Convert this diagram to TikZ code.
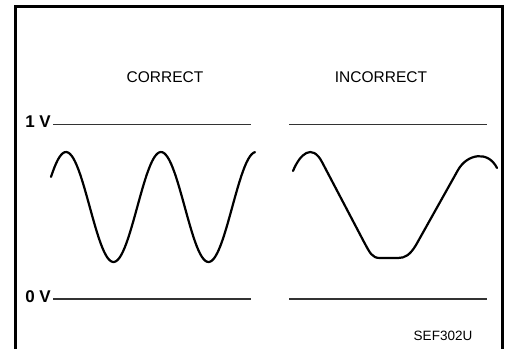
\documentclass[tikz,border=0pt]{standalone}
\usepackage{fontspec}
\setmainfont{Liberation Sans}
\usetikzlibrary{positioning}

\begin{document}
\begin{tikzpicture}[x=1pt,y=-1pt,
  wave/.style={line width=2.2pt,line join=round,line cap=round},
  level/.style={line width=1.1pt,black!80},
  lbl/.style={font=\fontsize{15.5}{18}\selectfont,inner sep=0pt},
  volt/.style={font=\bfseries\fontsize{17}{19}\selectfont,inner sep=0pt,anchor=base east}]
\useasboundingbox (0,0) rectangle (505,349);
% frame, open at the bottom
\draw[line width=3pt] (15.5,349) -- (15.5,6) -- (502.5,6) -- (502.5,349);
\node[lbl] (good) at (165,77.5) {CORRECT};
\node[lbl] (bad) at (381,77.5) {INCORRECT};
\node[volt] (oneV) at (51,127.5) {1 V};
\node[volt] (zeroV) at (51,302.5) {0 V};
\draw[level] (53,124.5) -- (251,124.5);
\draw[level] (289,124.5) -- (487,124.5);
\draw[level] (53,299) -- (251,299);
\draw[level] (289,299) -- (487,299);
% good signal: clean sine
\draw[wave,domain=51:255,samples=120] plot (\x, {207-55*cos(3.7895*(\x-66))});
% bad signal: clipped at the bottom
\draw[wave] (293,171) .. controls (300,154) and (312,143) .. (322,162) -- (364,242)
  .. controls (370,253) and (372,258) .. (380,258) -- (398,258)
  .. controls (405,258) and (410,255) .. (416,245) -- (458,170)
  .. controls (467,154) and (488,150) .. (497,168);
\node[lbl,font=\fontsize{13.5}{16}\selectfont] (code) at (443,335.5) {SEF302U};
\end{tikzpicture}
\end{document}
